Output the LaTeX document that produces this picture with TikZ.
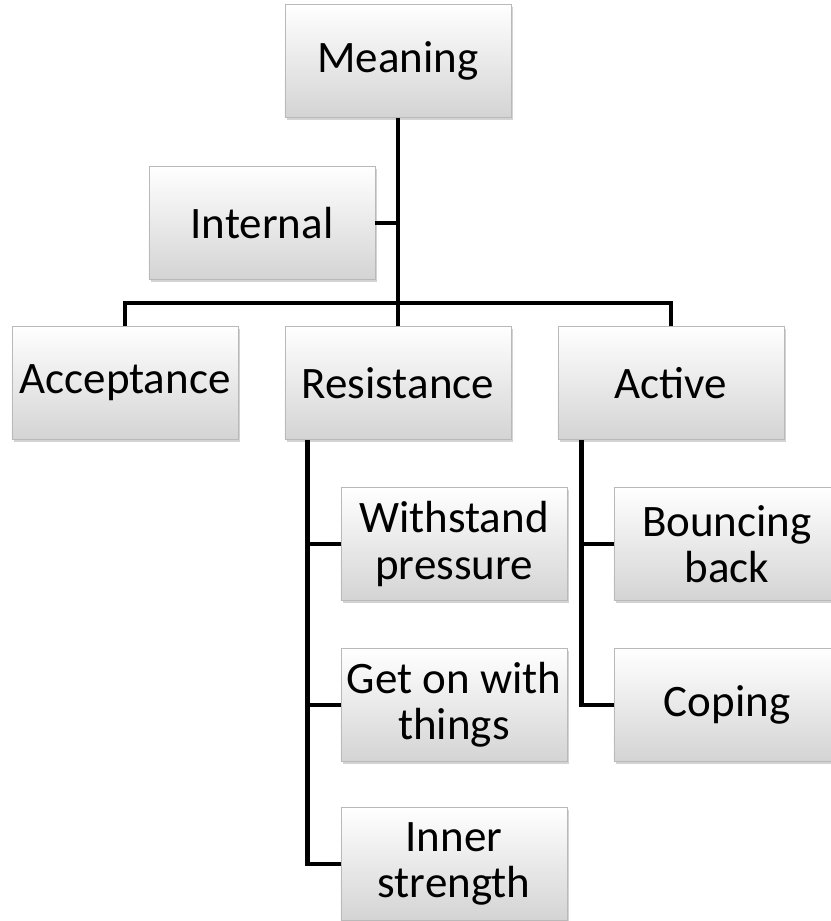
\documentclass[tikz,border=0pt]{standalone}
\usepackage{fontspec}
\setmainfont{Carlito}
\usetikzlibrary{shadows}
\begin{document}
\begin{tikzpicture}[x=0.025cm, y=-0.025cm]
						\useasboundingbox (0,0) rectangle (830,921);
						\begin{scope}[every node/.style={rectangle, draw=gray!55, thin, top color=white, bottom color=black!17, minimum width=5.65cm, minimum height=2.825cm, inner sep=0pt, align=center, font=\fontsize{32}{33}\selectfont, drop shadow={shadow xshift=1.5pt, shadow yshift=-1.5pt, opacity=0.35}}]
							\node (meaning) at (398,61) {Meaning};
							\node (internal) at (262,223) {Internal};
							\node (acceptance) at (125,383) {Acceptance};
							\node (resistance) at (398,383) {Resistance};
							\node (active) at (671,383) {Active};
							\node (withstand) at (454,544) {Withstand\\pressure};
							\node (geton) at (454,705) {Get on with\\things};
							\node (inner) at (454,864) {Inner\\strength};
							\node (bouncing) at (727,544) {Bouncing\\back};
							\node (coping) at (727,705) {Coping};
						\end{scope}
						\coordinate (split) at (398,303);
						\coordinate (rtrunk) at ([xshift=0.58cm]resistance.south west);
						\coordinate (atrunk) at ([xshift=0.6cm]active.south west);
						\begin{scope}[every path/.style={draw=black, line width=3.5pt}]
							\path (meaning.south) -- (resistance.north);
							\path (internal.east) -- (internal.east -| meaning.south);
							\path (acceptance.north) |- (split) -| (active.north);
							\path (rtrunk) |- (inner.west);
							\path (withstand.west) -- (withstand.west -| rtrunk);
							\path (geton.west) -- (geton.west -| rtrunk);
							\path (atrunk) |- (coping.west);
							\path (bouncing.west) -- (bouncing.west -| atrunk);
						\end{scope}
					\end{tikzpicture}
\end{document}
